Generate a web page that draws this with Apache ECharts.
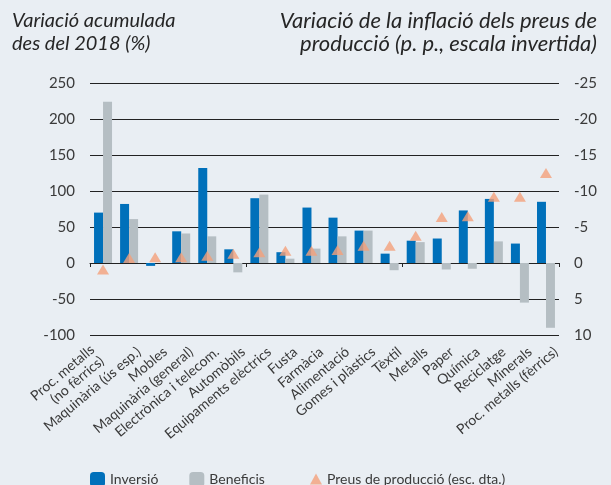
<!DOCTYPE html>
<html>
<head>
<meta charset="utf-8">
<script src="https://cdn.jsdelivr.net/npm/echarts@6/dist/echarts.min.js"></script>
<style>
  html, body {margin: 0; padding: 0; background: #e9eef3;}
  #chart {width: 611px; height: 485px;}
</style>
</head>
<body>
<div id="chart"></div>
<script>
/*dades*/
var categories = ['Proc. metalls\n(no fèrrics)', 'Maquinària (ús esp.)', 'Mobles', 'Maquinària (general)',
  'Electrònica i telecom.', 'Automòbils', 'Equipaments elèctrics', 'Fusta', 'Farmàcia', 'Alimentació',
  'Gomes i plàstics', 'Tèxtil', 'Metalls', 'Paper', 'Química', 'Reciclatge', 'Minerals', 'Proc. metalls (fèrrics)'];
var inversio = [70, 82, -4, 44, 132, 19, 90, 15, 77, 63, 45, 13, 31, 34, 73, 89, 27, 85];
var beneficis = [224, 61, 0, 41, 37, -13, 95, 6, 20, 37, 45, -10, 29, -9, -8, 30, -55, -90];
var preus = [0.9, -0.7, -0.8, -0.8, -1.0, -1.3, -1.5, -1.7, -1.7, -1.8, -2.4, -2.4, -3.8, -6.4, -6.5, -9.2, -9.2, -12.5];

var font = 'Lato';
var txtColor = '#3a3a3a';
var titleColor = '#262626';

var chart = echarts.init(document.getElementById('chart'));
var option = {
  backgroundColor: '#e9eef3',
  animation: false,
  textStyle: {fontFamily: font},
  // titols dels dos eixos
  graphic: [
    {type: 'text', left: 12, top: 11,
      style: {text: 'Variació acumulada', font: 'italic 20px ' + font, fill: titleColor}},
    {type: 'text', left: 12, top: 34,
      style: {text: 'des del 2018 (%)', font: 'italic 20px ' + font, fill: titleColor}},
    {type: 'text', right: 14, top: 10,
      style: {text: 'Variació de la inflació dels preus de', font: 'italic 22px ' + font, fill: titleColor}},
    {type: 'text', right: 14, top: 33,
      style: {text: 'producció (p. p., escala invertida)', font: 'italic 22px ' + font, fill: titleColor}}
  ],
  legend: [
    {
      left: 85, top: 467, itemWidth: 15, itemHeight: 15, itemGap: 31,
      textStyle: {fontSize: 14, color: txtColor, fontFamily: font},
      data: ['Inversió', 'Beneficis']
    },
    {
      left: 305, top: 467, itemWidth: 12, itemHeight: 11,
      textStyle: {fontSize: 14, color: txtColor, fontFamily: font},
      data: ['Preus de producció (esc. dta.)']
    }
  ],
  grid: [
    {left: 90, right: 52, top: 83, bottom: 150},
    // grid auxiliar per a les etiquetes (desplaçat a la dreta)
    {left: 100, right: 42, top: 83, bottom: 150}
  ],
  xAxis: [
    {
      type: 'category', gridIndex: 0,
      data: categories,
      axisLine: {onZero: true, onZeroAxisIndex: 0, lineStyle: {color: '#222', width: 1}},
      axisTick: {show: true, length: 4, lineStyle: {color: '#222'}},
      axisLabel: {show: false}
    },
    {
      type: 'category', gridIndex: 1,
      data: categories,
      position: 'bottom',
      axisLine: {show: false, onZero: false},
      axisTick: {show: false},
      axisLabel: {
        interval: 0, rotate: 40, margin: 15,
        fontSize: 14, color: txtColor, fontFamily: font, lineHeight: 15,
        formatter: function (v, i) {
          // la primera etiqueta (dues linies) puja una linia i va a l'esquerra
          if (i == 0) {
            return v.replace('\n', '    \n') + '    \n ';
          }
          return v;
        }
      }
    }
  ],
  yAxis: [
    {
      type: 'value', gridIndex: 0, min: -100, max: 250, interval: 50,
      axisLine: {show: false}, axisTick: {show: false},
      axisLabel: {fontSize: 15, color: txtColor, margin: 15},
      splitLine: {lineStyle: {color: '#222', width: 1}}
    },
    {
      type: 'value', gridIndex: 0, min: -25, max: 10, interval: 5, inverse: true,
      axisLine: {show: false}, axisTick: {show: false},
      axisLabel: {fontSize: 15, color: txtColor, margin: 15},
      splitLine: {show: false}
    },
    {
      type: 'value', gridIndex: 1, min: -100, max: 250, show: false
    }
  ],
  series: [
    {
      name: 'Inversió', type: 'bar', xAxisIndex: 0, yAxisIndex: 0,
      barWidth: 9, barGap: '0%',
      itemStyle: {color: '#0070ba'},
      data: inversio
    },
    {
      name: 'Beneficis', type: 'bar', xAxisIndex: 0, yAxisIndex: 0,
      barWidth: 9, barGap: '0%',
      itemStyle: {color: '#b5bec3'},
      data: beneficis
    },
    {
      name: 'Preus de producció (esc. dta.)', type: 'scatter', xAxisIndex: 0, yAxisIndex: 1,
      symbol: 'triangle', symbolSize: [12, 10],
      itemStyle: {color: '#f4a07a'},
      z: 5,
      data: preus
    }
  ]
};
chart.setOption(option);
</script>
</body>
</html>
